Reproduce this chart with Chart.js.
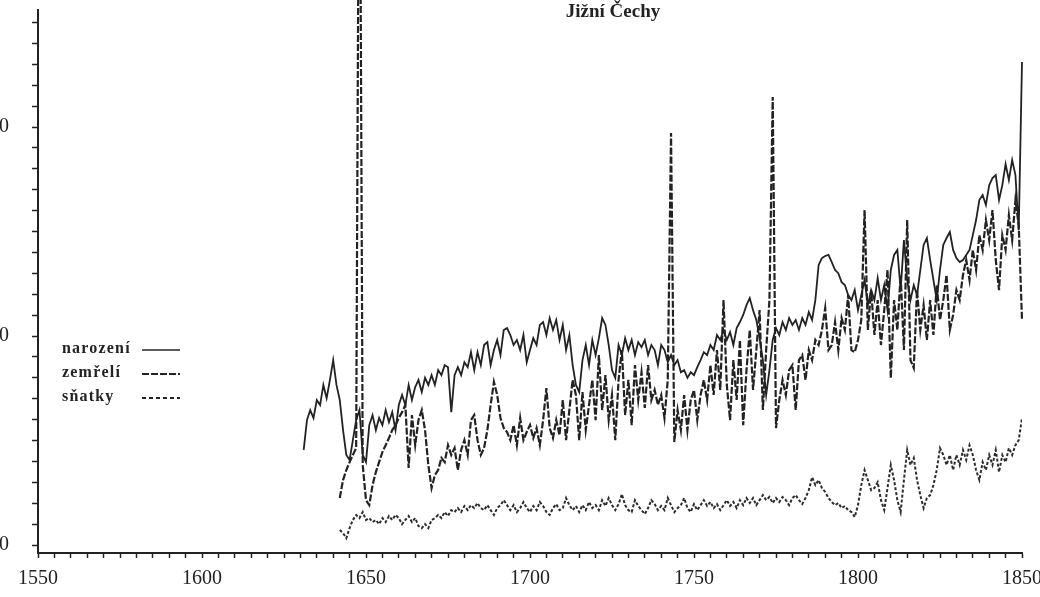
<!DOCTYPE html>
<html>
<head>
<meta charset="utf-8">
<script src="https://cdn.jsdelivr.net/npm/chart.js@4.4.1/dist/chart.umd.min.js"></script>
<style>
  html, body { margin: 0; padding: 0; background: #fff; overflow: hidden; }
  #wrap { position: absolute; left: -40px; top: 0; width: 1086px; height: 597px; }
</style>
</head>
<body>
<div id="wrap"><canvas id="demoChart"></canvas></div>
<script>
// Jižní Čechy – narození, zemřelí, sňatky (annual)
const birthsStart = 1631;
const births = [
  455, 598, 646, 608, 694, 670, 766, 703, 790, 885,
  766, 694, 550, 431, 407, 502, 598, 646, 431, 397,
  574, 622, 550, 608, 574, 646, 588, 636, 550, 670,
  718, 670, 766, 694, 756, 790, 732, 800, 766, 813,
  766, 837, 813, 861, 851, 636, 813, 851, 813, 875,
  851, 923, 837, 923, 861, 957, 971, 861, 933, 981,
  909, 1029, 1038, 1005, 957, 981, 933, 1005, 875, 933,
  990, 957, 1053, 1067, 1005, 1086, 1029, 1077, 981, 1053,
  933, 1005, 861, 766, 732, 885, 957, 861, 981, 909,
  990, 1086, 1053, 957, 837, 800, 957, 909, 990, 933,
  981, 909, 971, 947, 981, 909, 957, 933, 861, 957,
  933, 875, 909, 861, 885, 827, 837, 800, 827, 813,
  851, 885, 923, 909, 957, 933, 1005, 981, 1029, 981,
  1019, 957, 1038, 1067, 1101, 1148, 1182, 1124, 1077, 990,
  885, 718, 837, 981, 1038, 1005, 1067, 1029, 1086, 1053,
  1077, 1029, 1086, 1053, 1115, 1077, 1172, 1340, 1373, 1383,
  1388, 1354, 1316, 1301, 1258, 1244, 1196, 1172, 1220, 1124,
  1196, 1268, 1148, 1220, 1172, 1277, 1172, 1244, 1124, 1316,
  1388, 1412, 1220, 1459, 1268, 1172, 1244, 1196, 1316, 1436,
  1469, 1364, 1268, 1172, 1316, 1436, 1469, 1498, 1412, 1373,
  1354, 1364, 1388, 1412, 1483, 1555, 1651, 1675, 1627, 1722,
  1756, 1770, 1651, 1722, 1823, 1746, 1842, 1770, 1507, 2311
];

const deathsStart = 1642;
const deaths = [
  225, 311, 359, 397, 431, 464, 4000, 383, 215,
  191, 287, 349, 397, 445, 478, 512, 550, 574, 608,
  636, 670, 369, 622, 478, 598, 646, 550, 383, 273,
  335, 359, 417, 397, 478, 431, 464, 359, 455, 502,
  431, 598, 622, 502, 431, 464, 550, 670, 780, 718,
  608, 560, 541, 502, 574, 478, 608, 502, 541, 574,
  512, 560, 478, 598, 751, 560, 512, 598, 526, 694,
  502, 646, 790, 718, 502, 732, 550, 670, 790, 598,
  909, 646, 813, 598, 718, 502, 790, 933, 622, 790,
  574, 861, 694, 827, 656, 861, 694, 742, 670, 718,
  608, 790, 1971, 493, 646, 550, 718, 550, 694, 742,
  598, 718, 790, 694, 861, 718, 933, 742, 1172, 766,
  598, 885, 694, 981, 574, 837, 1029, 742, 933, 1124,
  646, 933, 1172, 2144, 560, 694, 790, 718, 837, 861,
  646, 885, 909, 790, 933, 885, 981, 957, 1029, 1134,
  933, 957, 1067, 933, 1086, 1029, 1196, 933, 923, 981,
  1077, 1603, 1029, 1220, 1005, 1172, 957, 1124, 1316, 799,
  1172, 1029, 1292, 933, 1555, 885, 847, 1220, 1029, 1148,
  981, 1172, 1005, 1244, 1077, 1172, 1292, 1029, 1101, 1220,
  1172, 1292, 1364, 1268, 1412, 1316, 1483, 1412, 1555, 1459,
  1603, 1364, 1220, 1483, 1412, 1579, 1459, 1651, 1531, 1077
];

const marriagesStart = 1642;
const marriages = [
  72, 57, 33, 81, 120, 144, 129, 158, 120,
  129, 110, 120, 100, 129, 110, 139, 120, 144, 129,
  100, 120, 139, 110, 129, 91, 81, 100, 81, 120,
  129, 144, 129, 158, 139, 167, 158, 177, 158, 187,
  167, 191, 177, 201, 177, 167, 191, 167, 144, 177,
  191, 215, 191, 167, 191, 158, 177, 206, 177, 158,
  187, 167, 206, 187, 158, 144, 177, 196, 167, 177,
  225, 191, 167, 187, 158, 191, 167, 206, 177, 191,
  167, 215, 187, 225, 191, 167, 196, 244, 191, 167,
  158, 215, 187, 167, 148, 177, 215, 196, 167, 187,
  167, 225, 191, 158, 177, 191, 225, 177, 158, 196,
  167, 191, 215, 187, 206, 177, 196, 167, 191, 215,
  187, 206, 177, 215, 191, 225, 201, 225, 191, 215,
  239, 215, 230, 201, 225, 206, 230, 215, 191, 225,
  239, 215, 196, 225, 263, 325, 287, 311, 273, 254,
  225, 206, 191, 201, 177, 187, 167, 158, 134, 191,
  287, 359, 311, 263, 273, 301, 215, 167, 273, 383,
  311, 215, 158, 311, 455, 383, 417, 311, 239, 177,
  225, 239, 287, 359, 464, 431, 383, 431, 359, 431,
  383, 455, 407, 478, 431, 359, 311, 397, 359, 431,
  383, 455, 349, 431, 397, 464, 431, 478, 502, 608
];

const seriesNames = ['narození', 'zemřelí', 'sňatky'];
const xTickLabels = [1550, 1600, 1650, 1700, 1750, 1800, 1850];
const yTickLabels = [0, 1000, 2000];
const chartTitle = 'Jižní Čechy';

const toPoints = (start, arr) => arr.map((v, i) => ({ x: start + i, y: v }));

const ink = '#222';
const serif = '"Liberation Serif", "DejaVu Serif", serif';

// title + legend drawn like on the scanned original (text first, line after)
const scanDecor = {
  id: 'scanDecor',
  afterDraw(chart) {
    const ctx = chart.ctx;
    ctx.save();
    ctx.fillStyle = ink;
    ctx.font = 'bold 19px ' + serif;
    ctx.textAlign = 'center';
    ctx.textBaseline = 'middle';
    ctx.fillText(chartTitle, 653, 12);

    ctx.font = 'bold 16px ' + serif;
    ctx.textAlign = 'left';
    ctx.letterSpacing = '1.2px';
    const rows = [
      { y: 349, dash: [], w: 1.6 },
      { y: 373, dash: [7, 2], w: 2 },
      { y: 397, dash: [4, 3], w: 2 }
    ];
    rows.forEach((r, i) => {
      ctx.fillText(seriesNames[i], 102, r.y);
      ctx.beginPath();
      ctx.setLineDash(r.dash);
      ctx.lineWidth = r.w;
      ctx.strokeStyle = ink;
      ctx.moveTo(182, r.y + 1);
      ctx.lineTo(220, r.y + 1);
      ctx.stroke();
    });
    ctx.restore();
  }
};

const ticksEvery = (from, to, step) => {
  const out = [];
  for (let v = from; v <= to; v += step) out.push({ value: v });
  return out;
};

new Chart(document.getElementById('demoChart'), {
  type: 'line',
  data: {
    datasets: [
      {
        label: seriesNames[0],
        data: toPoints(birthsStart, births),
        borderColor: ink,
        borderWidth: 1.8,
        pointRadius: 0,
        tension: 0,
        clip: { left: 5, top: 12, right: 10, bottom: 5 }
      },
      {
        label: seriesNames[1],
        data: toPoints(deathsStart, deaths),
        borderColor: ink,
        borderWidth: 2.2,
        borderDash: [7, 2],
        pointRadius: 0,
        tension: 0,
        clip: { left: 5, top: 12, right: 10, bottom: 5 }
      },
      {
        label: seriesNames[2],
        data: toPoints(marriagesStart, marriages),
        borderColor: '#2c2c2c',
        borderWidth: 2,
        borderDash: [3, 2],
        pointRadius: 0,
        tension: 0
      }
    ]
  },
  options: {
    responsive: true,
    maintainAspectRatio: false,
    animation: false,
    layout: { padding: { top: 10, right: 0, left: 0, bottom: 0 } },
    plugins: {
      legend: { display: false },
      tooltip: { enabled: false }
    },
    scales: {
      x: {
        type: 'linear',
        min: 1550,
        max: 1850,
        afterFit: (scale) => {
          scale.height = 44;
          scale.paddingLeft = 0;
          scale.paddingRight = 24;
        },
        afterBuildTicks: (scale) => { scale.ticks = ticksEvery(1550, 1850, 5); },
        border: { color: ink, width: 2 },
        grid: { drawOnChartArea: false, drawTicks: true, tickLength: 5, color: ink, tickWidth: 1.5 },
        ticks: {
          autoSkip: false,
          maxRotation: 0,
          padding: 9,
          color: ink,
          font: { family: serif, size: 20 },
          callback: (v) => xTickLabels.includes(v) ? String(v) : ''
        }
      },
      y: {
        min: -38,
        max: 2560,
        afterFit: (scale) => {
          scale.width = 78;
          scale.paddingTop = 10;
          scale.paddingBottom = 0;
        },
        afterBuildTicks: (scale) => { scale.ticks = ticksEvery(0, 2500, 100); },
        border: { color: ink, width: 2 },
        grid: { drawOnChartArea: false, drawTicks: true, tickLength: 6, color: ink, tickWidth: 1.5 },
        ticks: {
          autoSkip: false,
          padding: 23,
          color: ink,
          font: { family: serif, size: 20 },
          callback: (v) => yTickLabels.includes(v) ? String(v) : ''
        }
      }
    }
  },
  plugins: [scanDecor]
});
</script>
</body>
</html>
